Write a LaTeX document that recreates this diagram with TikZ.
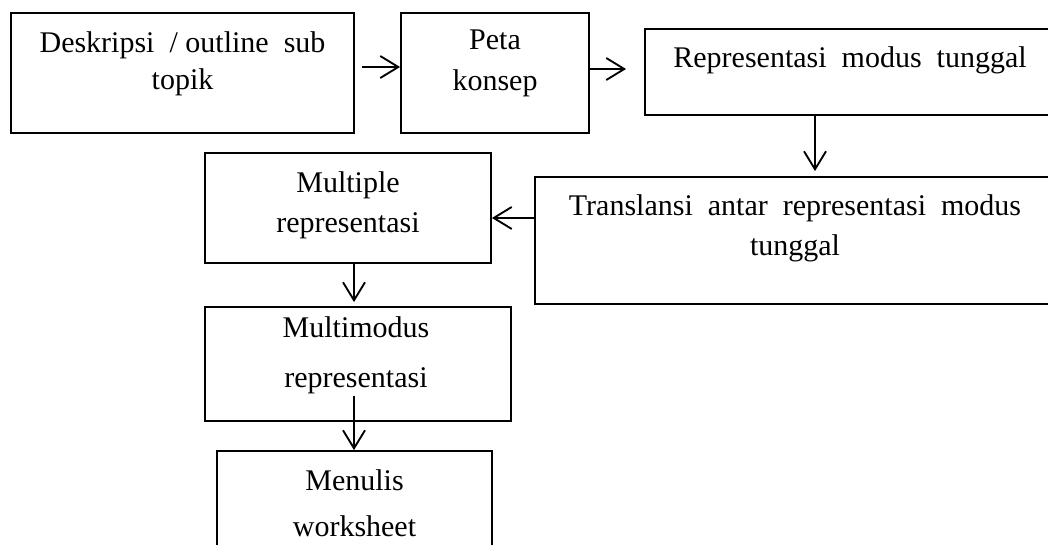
\documentclass[tikz,border=0pt]{standalone}
\usepackage{fontspec}
\setmainfont{Liberation Serif}
\usetikzlibrary{positioning,arrows.meta}

\begin{document}
\begin{tikzpicture}[
    x=0.75pt, y=-0.75pt,
    every node/.style={font=\fontsize{22.5}{28}\selectfont},
    box/.style={draw, line width=1.4pt, inner sep=0pt},
    txt/.style={align=center, inner sep=0pt},
    arrow/.style={-{Straight Barb[length=13.5pt, width=16.5pt]}, line width=1.4pt},
]
\useasboundingbox (0,0) rectangle (1048,544);

% Boxes
\node[box, minimum width=257.25pt, minimum height=90pt] (desk) at (182.5,73) {};
\node[box, minimum width=141pt, minimum height=90pt] (peta) at (495,73) {};
\node[box, minimum width=307.5pt, minimum height=64.5pt] (tunggal) at (850,72) {};
\node[box, minimum width=390pt, minimum height=95.25pt] (transl) at (795,240.5) {};
\node[box, minimum width=214.5pt, minimum height=82.5pt] (multi) at (348,208) {};
\node[box, minimum width=229.5pt, minimum height=85.5pt] (multimod) at (358,364) {};
\node[box, minimum width=206.25pt, minimum height=89.25pt] (tulis) at (354.5,510.5) {};

% Texts
\node[txt, below=14.25pt of desk.north] (deskT)
    {Deskripsi \ / outline \ sub\\topik};
\node[txt, below=13.5pt of peta.north] (petaT)
    {Peta\\[2.75pt]konsep};
\node[txt, below=13.5pt of tunggal.north] (tunggalT)
    {Representasi \ modus \ tunggal};
\node[txt, below=13.5pt of transl.north] (translT)
    {Translansi \ antar \ representasi \ modus\\[2pt]tunggal};
\node[txt, below=14.25pt of multi.north] (multiT)
    {Multiple\\[2pt]representasi};
\node[txt, below=7.5pt of multimod.north, xshift=-1.5pt] (multimodT)
    {Multimodus\\[10pt]representasi};
\node[txt, below=14.25pt of tulis.north] (tulisT)
    {Menulis\\[7pt]worksheet};

% Arrows
\draw[arrow, shorten <=5.25pt] ([yshift=4.5pt]desk.east) -- ([yshift=4.5pt]desk.east -| peta.west);
\draw[arrow, shorten >=13.5pt] ([yshift=3pt]peta.east) -- ([yshift=3pt]peta.east -| tunggal.west);
\draw[arrow, shorten >=3.75pt] ([xshift=-26.25pt]tunggal.south) -- ([xshift=-26.25pt]tunggal.south |- transl.north);
\draw[arrow] ([yshift=16.9pt]transl.west) -- ([yshift=16.9pt]transl.west -| multi.east);
\draw[arrow, shorten >=3pt] ([xshift=4.5pt]multi.south) -- ([xshift=4.5pt]multi.south |- multimod.north);
\draw[arrow, shorten <=-19.5pt] ([xshift=-3pt]multimod.south) -- ([xshift=-3pt]multimod.south |- tulis.north);
\end{tikzpicture}
\end{document}
